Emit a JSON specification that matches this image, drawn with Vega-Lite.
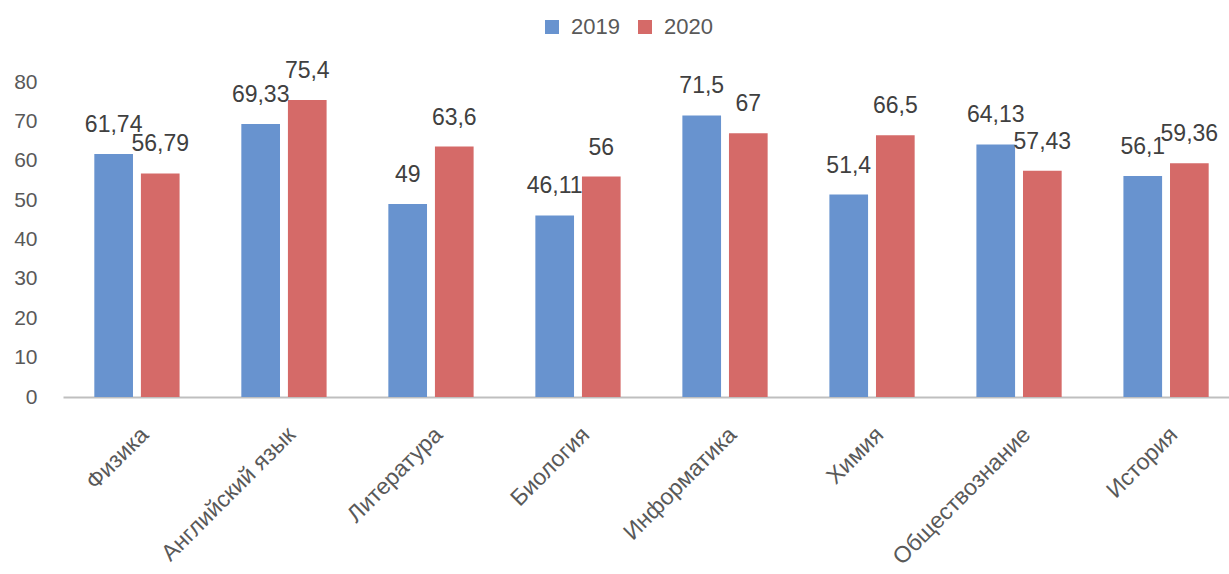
{
  "$schema": "https://vega.github.io/schema/vega-lite/v6.json",
  "width": 1166,
  "height": 315,
  "autosize": {"type": "none"},
  "padding": {"left": 63, "top": 82, "right": 0, "bottom": 177},
  "background": "white",
  "config": {
    "view": {"stroke": null},
    "font": "Liberation Sans",
    "locale": {"number": {"decimal": ",", "thousands": " ", "grouping": [3], "currency": ["", ""]}}
  },
  "data": {
    "values": [
      {"subject": "Физика", "year": "2019", "value": 61.74},
      {"subject": "Физика", "year": "2020", "value": 56.79},
      {"subject": "Английский язык", "year": "2019", "value": 69.33},
      {"subject": "Английский язык", "year": "2020", "value": 75.4},
      {"subject": "Литература", "year": "2019", "value": 49},
      {"subject": "Литература", "year": "2020", "value": 63.6},
      {"subject": "Биология", "year": "2019", "value": 46.11},
      {"subject": "Биология", "year": "2020", "value": 56},
      {"subject": "Информатика", "year": "2019", "value": 71.5},
      {"subject": "Информатика", "year": "2020", "value": 67},
      {"subject": "Химия", "year": "2019", "value": 51.4},
      {"subject": "Химия", "year": "2020", "value": 66.5},
      {"subject": "Обществознание", "year": "2019", "value": 64.13},
      {"subject": "Обществознание", "year": "2020", "value": 57.43},
      {"subject": "История", "year": "2019", "value": 56.1},
      {"subject": "История", "year": "2020", "value": 59.36}
    ]
  },
  "encoding": {
    "x": {
      "field": "subject", "type": "nominal", "sort": null,
      "scale": {"paddingInner": 0.42, "paddingOuter": 0.213, "range": [0, 1177]},
      "axis": {
        "title": null, "labelAngle": -45, "labelAlign": "right", "labelBaseline": "top",
        "labelFontSize": 23, "labelColor": "#595959", "labelPadding": 26, "labelLimit": 400,
        "ticks": false, "domainColor": "#bfbfbf", "domainWidth": 2
      }
    },
    "xOffset": {"field": "year", "type": "nominal", "scale": {"paddingInner": 0.17}},
    "y": {
      "field": "value", "type": "quantitative",
      "scale": {"domain": [0, 80], "nice": false},
      "axis": {
        "title": null, "grid": false, "domain": false, "ticks": false, "tickCount": 8,
        "labelFontSize": 21, "labelColor": "#595959", "labelPadding": 26
      }
    }
  },
  "layer": [
    {
      "mark": {"type": "bar"},
      "encoding": {
        "color": {
          "field": "year", "type": "nominal",
          "scale": {"domain": ["2019", "2020"], "range": ["#6893cf", "#d56a68"]},
          "legend": {
            "title": null, "orient": "none", "direction": "horizontal",
            "legendX": 478, "legendY": -66,
            "symbolType": "square", "symbolSize": 196, "symbolStrokeWidth": 0,
            "labelFontSize": 22, "labelColor": "#595959", "columnPadding": 14, "labelOffset": 8
          }
        }
      }
    },
    {
      "mark": {"type": "text", "baseline": "bottom", "dy": -17, "fontSize": 23, "color": "#404040"},
      "encoding": {
        "text": {"field": "value", "type": "quantitative", "format": "~f"}
      }
    }
  ]
}
